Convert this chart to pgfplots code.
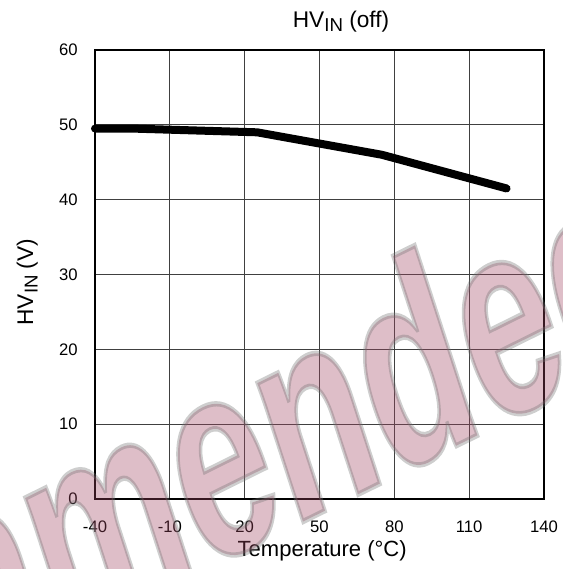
\documentclass[border=0pt]{standalone}
\usepackage{fontspec}
\setmainfont{Liberation Sans}
\usepackage{pgfplots}
\pgfplotsset{compat=1.18}
\definecolor{wm}{RGB}{160,69,97}
% subscript "IN" as in the original (large, lowered)
\newcommand{\subIN}{\raisebox{-3.5pt}{\fontsize{14}{14}\selectfont IN}}

\begin{document}
\begin{tikzpicture}
\useasboundingbox (-71.25pt,-52.5pt) rectangle (351pt,374.25pt);
\begin{axis}[
    scale only axis,
    width=336.75pt, height=336.75pt,
    xmin=-40, xmax=140,
    ymin=0, ymax=60,
    xtick={-40,-10,...,140},
    ytick={0,10,...,60},
    grid=major,
    major grid style={black!75, line width=0.6pt},
    axis line style={line width=1.7pt},
    major tick length=0pt,
    clip=false,
    /pgf/number format/assume math mode=true,
    tick label style={font=\fontsize{12.5}{15}\selectfont},
    xticklabel style={yshift=-12.5pt},
    yticklabel style={xshift=-9.5pt},
    title={\fontsize{17}{20}\selectfont HV\subIN\ (off)},
    title style={at={(axis description cs:0.548,1.046)}, anchor=center},
    xlabel={\fontsize{16.5}{19}\selectfont Temperature (°C)},
    xlabel style={at={(axis description cs:0.506,-0.116)}, anchor=center},
    ylabel={\fontsize{17}{20}\selectfont HV\subIN\ (V)},
    ylabel style={at={(axis description cs:-0.151,0.483)}, anchor=center},
]
\addplot[black, line width=6pt, line cap=round, line join=round] coordinates {
    (-40,49.5)
    (-25,49.5)
    (25,49.0)
    (75,46.0)
    (125,41.5)
};
\end{axis}

% watermark
\begin{scope}[shift={(147.75pt,-21pt)}, cm={0.582,0.288,-0.309,0.951,(0,0)}, opacity=0.35]
\node[anchor=base west, inner sep=0pt, outer sep=0pt, text=wm, transform shape,
      font=\fontsize{207}{207}\selectfont\bfseries] at (0,0)
      {\special{pdf:literal direct 2 Tr 4 w 0.45 0.45 0.45 RG}\llap{Not Recomme}nded\special{pdf:literal direct 0 Tr}};
\end{scope}
\end{tikzpicture}
\end{document}
